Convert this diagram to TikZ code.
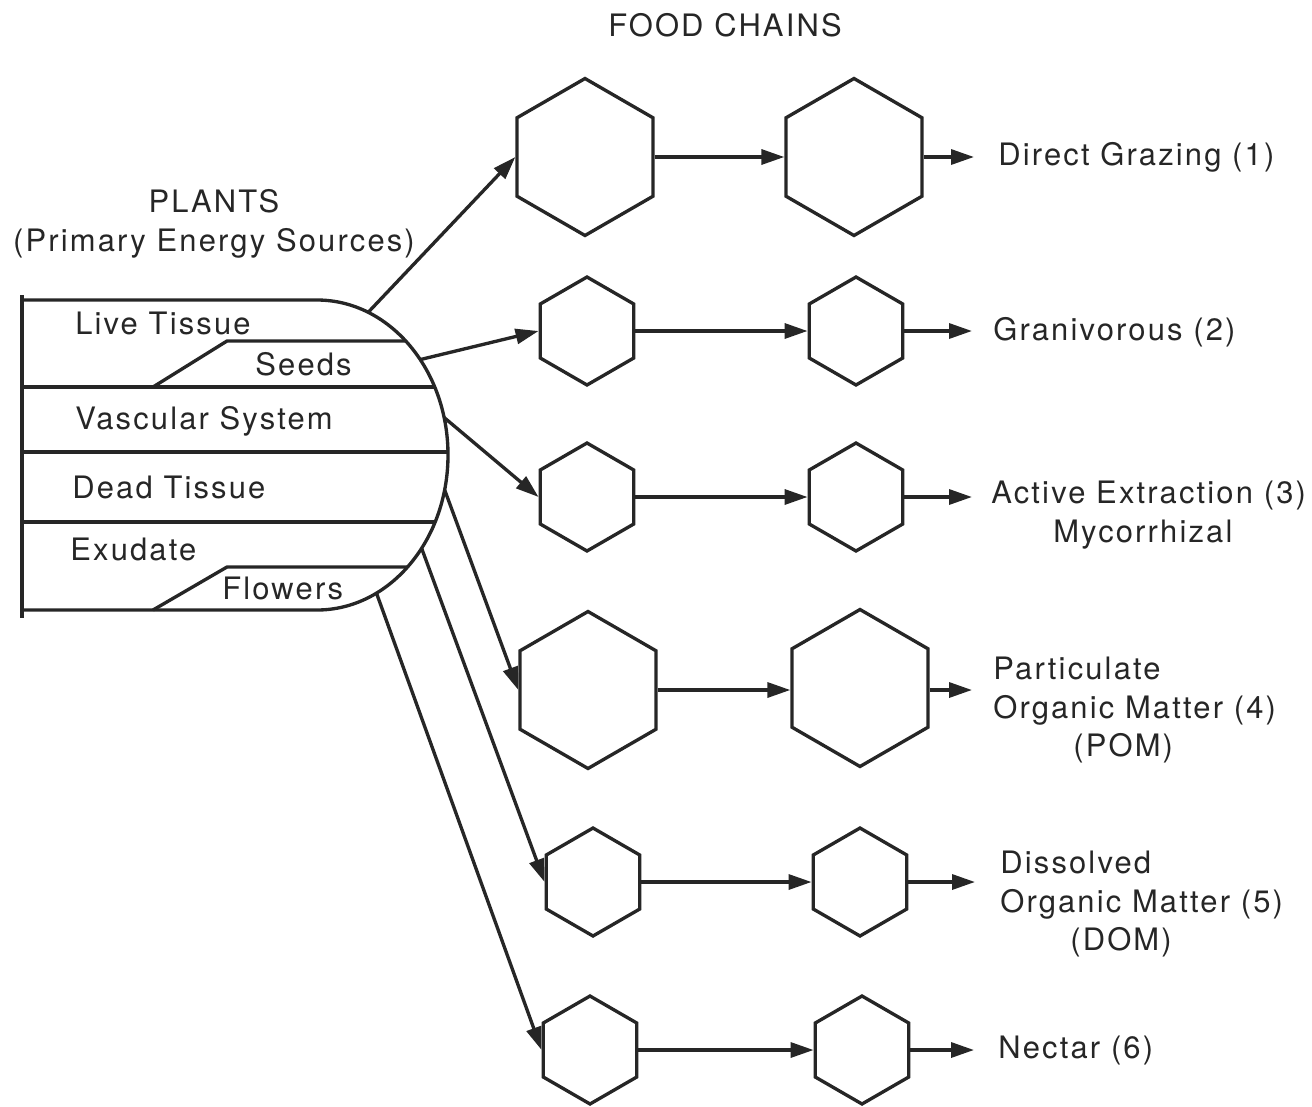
\documentclass[tikz,border=0pt]{standalone}
\usepackage{fontspec}
\setmainfont{TeX Gyre Heros}[LetterSpace=7]
\usetikzlibrary{arrows.meta,shapes.geometric}
\definecolor{FcInk}{HTML}{262626}
\tikzset{
  fcline/.style={draw=FcInk,line width=1.9pt},
  fchex/.style={
    regular polygon,
    regular polygon sides=6,
    shape border rotate=30,
    fcline,
    inner sep=0pt
  },
  fcbig/.style={fchex,minimum size=3.14cm},
  fcsmall/.style={fchex,minimum size=2.16cm},
  fcarrow/.style={-{Triangle[length=4.6mm,width=3mm]},fcline},
  fcpart/.style={anchor=base west,inner sep=0pt,text=FcInk},
  fclabel/.style={anchor=west,inner sep=0pt,align=left,text=FcInk}
}
\begin{document}
\begin{tikzpicture}[x=0.02cm,y=-0.02cm,font=\fontsize{17.6}{22}\selectfont]
    \useasboundingbox (0,0) rectangle (1312,1106);
    \node[text=FcInk] (title) at (725,25) {FOOD CHAINS};
    \node[text=FcInk,align=center] (plants) at (214,224) {PLANTS\\(Primary Energy Sources)};

    % the plant
    \coordinate (pc) at (317,455);
    \draw[fcline] (22,295) -- (22,618);
    \draw[fcline] (22,300) -- (317,300) arc[start angle=-90,end angle=90,x radius=131,y radius=155] -- (22,610);
    \draw[fcline] (22,387) -- (435,387);
    \draw[fcline] (22,452) -- (448,452);
    \draw[fcline] (22,522) -- (435,522);
    \draw[fcline] (153,387) -- (227,341) -- (406,341);
    \draw[fcline] (153,610) -- (227,567) -- (407,567);
    \node[fcpart] (live) at (75,334) {Live Tissue};
    \node[fcpart] (seeds) at (255,375) {Seeds};
    \node[fcpart] (vasc) at (75,429) {Vascular System};
    \node[fcpart] (dead) at (72,498) {Dead Tissue};
    \node[fcpart] (exud) at (70,560) {Exudate};
    \node[fcpart] (flow) at (222,599) {Flowers};
    \coordinate (from1) at ([shift={(-67:131 and 155)}]pc);
    \coordinate (from2) at ([shift={(-38:131 and 155)}]pc);
    \coordinate (from3) at ([shift={(-14:131 and 155)}]pc);
    \coordinate (from4) at ([shift={(13:131 and 155)}]pc);
    \coordinate (from5) at ([shift={(37:131 and 155)}]pc);
    \coordinate (from6) at ([shift={(63:131 and 155)}]pc);

    % food chains
    \node[fcbig] (h1a) at (585,157) {};
    \node[fcbig] (h1b) at (854,157) {};
    \node[fcsmall] (h2a) at (587,331) {};
    \node[fcsmall] (h2b) at (856,331) {};
    \node[fcsmall] (h3a) at (587,497) {};
    \node[fcsmall] (h3b) at (856,497) {};
    \node[fcbig] (h4a) at (588,690) {};
    \node[fcbig] (h4b) at (860,688) {};
    \node[fcsmall] (h5a) at (593,882) {};
    \node[fcsmall] (h5b) at (860,882) {};
    \node[fcsmall] (h6a) at (590,1050) {};
    \node[fcsmall] (h6b) at (862,1050) {};

    \node[fclabel] (l1) at (998,157) {Direct Grazing (1)};
    \node[fclabel] (l2) at (993,332) {Granivorous (2)};
    \node[fclabel] (l3) at (991,515) {Active Extraction (3)\\\hspace*{1.24cm}Mycorrhizal};
    \node[fclabel] (l4) at (993,710) {Particulate\\Organic Matter (4)\\\hspace*{1.6cm}(POM)};
    \node[fclabel] (l5) at (1000,904) {Dissolved\\Organic Matter (5)\\\hspace*{1.4cm}(DOM)};
    \node[fclabel] (l6) at (998,1050) {Nectar (6)};

    \draw[fcarrow] (from1) -- (h1a.west);
    \draw[fcarrow] (from2) -- (h2a.west);
    \draw[fcarrow] (from3) -- (h3a.west);
    \draw[fcarrow] (from4) -- (h4a.west);
    \draw[fcarrow] (from5) -- (h5a.west);
    \draw[fcarrow] (from6) -- (h6a.west);
    \draw[fcarrow] (h1a.east) -- (h1b.west);
    \draw[fcarrow] (h2a.east) -- (h2b.west);
    \draw[fcarrow] (h3a.east) -- (h3b.west);
    \draw[fcarrow] (h4a.east) -- (h4a.east -| h4b.west);
    \draw[fcarrow] (h5a.east) -- (h5b.west);
    \draw[fcarrow] (h6a.east) -- (h6b.west);
    \draw[fcarrow,shorten >=0.48cm] (h1b.east) -- (h1b.east -| l1.west);
    \draw[fcarrow,shorten >=0.42cm] (h2b.east) -- (h2b.east -| l2.west);
    \draw[fcarrow,shorten >=0.38cm] (h3b.east) -- (h3b.east -| l3.west);
    \draw[fcarrow,shorten >=0.42cm] (h4a.east -| h4b.east) -- (h4a.east -| l4.west);
    \draw[fcarrow,shorten >=0.5cm] (h5b.east) -- (h5b.east -| l5.west);
    \draw[fcarrow,shorten >=0.48cm] (h6b.east) -- (h6b.east -| l6.west);
\end{tikzpicture}
\end{document}
